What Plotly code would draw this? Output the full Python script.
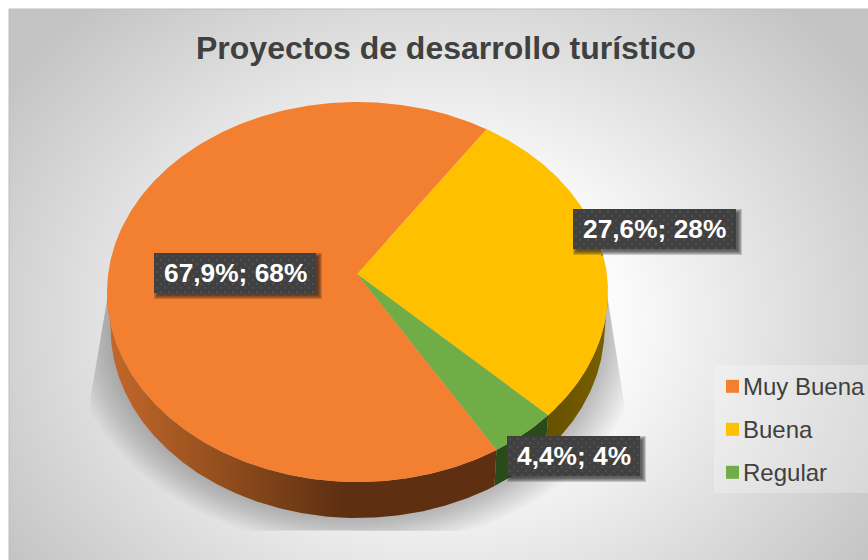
import math
import plotly.graph_objects as go

# Data
categories = ["Muy Buena", "Buena", "Regular"]
percent_values = [67.9, 27.6, 4.4]
rounded_values = [68, 28, 4]
title_text = "Proyectos de desarrollo turístico"

# Style
top_colors = ["#F37F31", "#FFC000", "#70AD47"]
wall_scales = [
    [[0, "#C4682A"], [0.25, "#9A521F"], [0.6, "#5E3011"], [1, "#5E3011"]],
    [[0, "#665000"], [1, "#7A5F00"]],
    [[0, "#2A4A1B"], [1, "#2A4A1B"]],
]
label_pos = [(235, 273), (654.5, 229), (573.5, 456)]
label_box = [(162, 40), (163, 40), (133, 40)]
legend_y = [386.3, 429.3, 472.3]

CX, CY, RX, RY = 357.5, 292, 250.5, 190
APX, APY = 357, 274
BCY, BRX = 328, 247
START = 31.0
DRAW_ORDER = [1, 2, 0]


def ell(a, cy=CY, rx=RX, ry=RY, cx=CX):
    r = math.radians(a)
    return cx + rx * math.sin(r), cy - ry * math.cos(r)


def arc(a0, a1, **kw):
    n = max(2, int(abs(a1 - a0) * 2))
    pts = [ell(a0 + (a1 - a0) * i / n, **kw) for i in range(n + 1)]
    return [p[0] for p in pts], [p[1] for p in pts]


def clip_to_plane(x, y):
    """Keep a shadow point inside the trapezoid on which the pie's shadow falls."""
    y = min(max(y, 240), 531)
    left = 117 - (min(y, 400) - 240) * 27 / 160
    right = 605 + (min(y, 400) - 280) * 19 / 120
    return min(max(x, left), right), y


fig = go.Figure()


def poly(xs, ys, color=None, grad=None):
    fig.add_trace(go.Scatter(x=xs, y=ys, mode="lines", fill="toself", line=dict(width=0),
                             fillcolor=color, fillgradient=grad, hoverinfo="skip", showlegend=False))


# Background radial gradient
BGX, BGY, BGW, BGH = 440, 320, 520, 420
poly([BGX - BGW, BGX + BGW, BGX + BGW, BGX - BGW, BGX - BGW],
     [BGY - BGH, BGY - BGH, BGY + BGH, BGY + BGH, BGY - BGH],
     grad=dict(type="radial", colorscale=[[0, "#FFFFFF"], [0.35, "#FBFBFB"], [1, "#C4C4C4"]]))

# Soft shadow under the pie
for i in range(16):
    xs, ys = arc(0, 360, cy=BCY, rx=BRX + 42 - i * 2.6, ry=RY + 30 - i * 1.9)
    pts = [clip_to_plane(x, y) for x, y in zip(xs, ys)]
    poly([p[0] for p in pts], [p[1] for p in pts], color="rgba(0,0,0,0.015)")

# Pie walls and top
total = sum(percent_values)
spans = {}
a = START
for i in DRAW_ORDER:
    spans[i] = (a, a + percent_values[i] / total * 360)
    a = spans[i][1]
for i in DRAW_ORDER:
    a0, a1 = spans[i]
    lo, hi = max(a0, 90), min(a1, 270)
    tx, ty = arc(lo, hi)
    bx, by = arc(hi, lo, cy=BCY, rx=BRX)
    xs, ys = tx + bx + tx[:1], ty + by + ty[:1]
    poly(xs, ys, grad=dict(type="horizontal", colorscale=wall_scales[i], start=min(xs), stop=max(xs)))

for i in DRAW_ORDER:
    a0, a1 = spans[i]
    xs, ys = arc(a0, a1)
    fig.add_trace(go.Scatter(x=[APX] + xs + [APX], y=[APY] + ys + [APY], mode="lines", fill="toself",
                             line=dict(width=0), fillcolor=top_colors[i], name=categories[i],
                             hoverinfo="name", showlegend=False))

# Data label boxes
for i, (px, py) in enumerate(label_pos):
    w, h = label_box[i]
    for k in range(5):
        s = 6 - k
        x0, x1, y0, y1 = px - w / 2 + 5 - s + 1, px + w / 2 + s, py - h / 2 + 5 - s + 1, py + h / 2 + s
        poly([x0, x1, x1, x0, x0], [y0, y0, y1, y1, y0], color="rgba(30,30,30,0.2)")
    x0, x1, y0, y1 = px - w / 2, px + w / 2, py - h / 2, py + h / 2
    poly([x0, x1, x1, x0, x0], [y0, y0, y1, y1, y0], color="#404040")
    dx, dy = [], []
    row = 0
    yy = y0 + 3
    while yy < y1:
        xx = x0 + (3 if row % 2 == 0 else 7)
        while xx < x1:
            dx.append(xx)
            dy.append(yy)
            xx += 8
        yy += 4
        row += 1
    fig.add_trace(go.Scatter(x=dx, y=dy, mode="markers", hoverinfo="skip", showlegend=False,
                             marker=dict(size=2, color="#545454", line=dict(width=0))))
    pct = f"{percent_values[i]:.1f}".replace(".", ",")
    fig.add_annotation(x=px, y=py, text=f"<b>{pct}%; {rounded_values[i]}%</b>", showarrow=False,
                       font=dict(family="Liberation Sans", size=26.3, color="#FFFFFF"))

# Legend
poly([714, 868, 868, 714, 714], [365, 365, 493, 493, 365], color="rgba(255,255,255,0.25)")
for i, c in enumerate(categories):
    fig.add_trace(go.Scatter(x=[732.5], y=[legend_y[i]], mode="markers", name=c, hoverinfo="name", showlegend=False,
                             marker=dict(symbol="square", size=13, color=top_colors[i], line=dict(width=0))))
    fig.add_annotation(x=741, y=legend_y[i], text=c, showarrow=False, xanchor="left",
                       font=dict(family="Liberation Sans", size=24, color="#404040"))

fig.add_annotation(x=446, y=48, text=f"<b>{title_text}</b>", showarrow=False,
                   font=dict(family="Liberation Sans", size=32, color="#404040"))

fig.update_layout(
    width=868, height=560, margin=dict(l=0, r=0, t=0, b=0), paper_bgcolor="white", plot_bgcolor="rgba(0,0,0,0)",
    xaxis=dict(domain=[9 / 868, 1], range=[9, 868], visible=False, fixedrange=True),
    yaxis=dict(domain=[0, 1 - 9 / 560], range=[560, 9], visible=False, fixedrange=True),
    shapes=[dict(type="line", xref="paper", yref="paper", x0=9 / 868, x1=1, y0=1 - 9 / 560, y1=1 - 9 / 560,
                 line=dict(color="#BDBDBD", width=1)),
            dict(type="line", xref="paper", yref="paper", x0=9 / 868, x1=9 / 868, y0=0, y1=1 - 9 / 560,
                 line=dict(color="#BDBDBD", width=1)),
            dict(type="line", xref="x", yref="y", x0=602, x1=602, y0=249, y1=256,
                 line=dict(color="#7F7F7F", width=1.5))],
)
fig.write_html("out.html", config={"displayModeBar": False},
               post_script="document.body.style.margin='0';document.documentElement.style.overflow='hidden';")
